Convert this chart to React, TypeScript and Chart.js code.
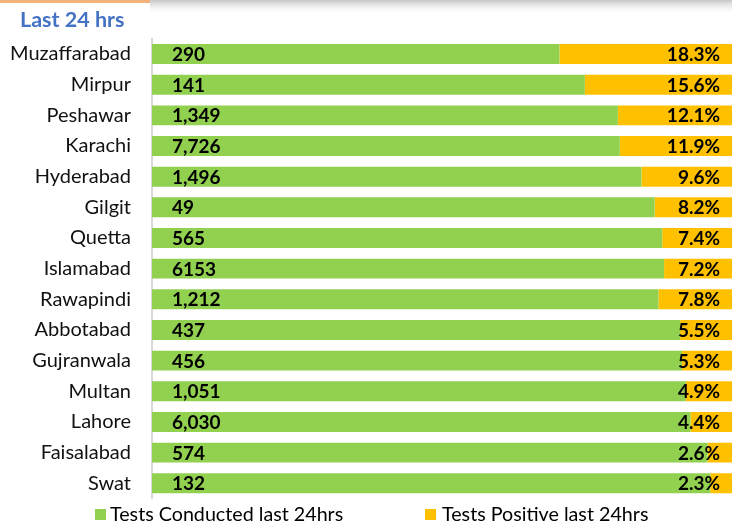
import React, { useEffect, useRef } from "react";
import { Chart, registerables } from "chart.js";

Chart.register(...registerables);

const cities = [
  "Muzaffarabad", "Mirpur", "Peshawar", "Karachi", "Hyderabad", "Gilgit", "Quetta",
  "Islamabad", "Rawapindi", "Abbotabad", "Gujranwala", "Multan", "Lahore", "Faisalabad", "Swat",
];
const testsConducted = [290, 141, 1349, 7726, 1496, 49, 565, 6153, 1212, 437, 456, 1051, 6030, 574, 132];
const testLabels = ["290", "141", "1,349", "7,726", "1,496", "49", "565", "6153", "1,212", "437", "456", "1,051", "6,030", "574", "132"];
const positiveRate = [18.3, 15.6, 12.1, 11.9, 9.6, 8.2, 7.4, 7.2, 7.8, 5.5, 5.3, 4.9, 4.4, 2.6, 2.3];
const negativeShare = positiveRate.map((p) => 100 - p);

const FONT = "Lato, 'Open Sans', sans-serif";
const GREEN = "#92D050";
const ORANGE = "#FFC000";

const decorPlugin = {
  id: "decor",
  beforeDraw(chart: any) {
    const ctx = chart.ctx;
    ctx.save();
    const g = ctx.createLinearGradient(0, 0, 0, 15);
    g.addColorStop(0, "rgba(185,185,185,0.8)");
    g.addColorStop(1, "rgba(255,255,255,0)");
    ctx.fillStyle = g;
    ctx.fillRect(150, 0, chart.width - 150, 15);
    ctx.fillStyle = "#F2B27A";
    ctx.fillRect(0, 0, 150, 3);
    ctx.restore();
  },
  afterDraw(chart: any) {
    const ctx = chart.ctx;
    ctx.save();
    // title
    ctx.fillStyle = "#4472C4";
    ctx.font = `bold 21.5px ${FONT}`;
    ctx.textAlign = "left";
    ctx.textBaseline = "alphabetic";
    ctx.fillText("Last 24 hrs", 20, 27);
    // legend
    ctx.font = `19.7px ${FONT}`;
    ctx.textBaseline = "middle";
    ctx.fillStyle = GREEN;
    ctx.fillRect(95, 509, 11, 11);
    ctx.fillStyle = "#000";
    ctx.fillText("Tests Conducted last 24hrs", 110, 515);
    ctx.fillStyle = ORANGE;
    ctx.fillRect(425, 509, 11, 11);
    ctx.fillStyle = "#000";
    ctx.fillText("Tests Positive last 24hrs", 442, 515);
    ctx.restore();
  },
};

const labelPlugin = {
  id: "barLabels",
  afterDatasetsDraw(chart: any) {
    const ctx = chart.ctx;
    ctx.save();
    ctx.font = `bold 19px ${FONT}`;
    ctx.fillStyle = "#000";
    ctx.textBaseline = "middle";
    const m0 = chart.getDatasetMeta(0);
    m0.data.forEach((el: any, i: number) => {
      ctx.textAlign = "left";
      ctx.fillText(testLabels[i], chart.chartArea.left + 20, el.y + 1);
    });
    const m1 = chart.getDatasetMeta(1);
    m1.data.forEach((el: any, i: number) => {
      ctx.textAlign = "right";
      ctx.fillText(positiveRate[i].toFixed(1) + "%", chart.chartArea.right - 12, el.y + 1);
    });
    ctx.restore();
  },
};

export default function App() {
  const ref = useRef<HTMLCanvasElement>(null);
  useEffect(() => {
    if (!ref.current) return;
    const chart = new Chart(ref.current, {
      type: "bar",
      data: {
        labels: cities,
        datasets: [
          {
            label: "Tests Conducted last 24hrs",
            data: negativeShare,
            backgroundColor: GREEN,
            barPercentage: 0.65,
            categoryPercentage: 1,
          },
          {
            label: "Tests Positive last 24hrs",
            data: positiveRate,
            backgroundColor: ORANGE,
            barPercentage: 0.65,
            categoryPercentage: 1,
          },
        ],
      },
      options: {
        indexAxis: "y",
        responsive: false,
        animation: false,
        layout: { padding: { top: 38.7, bottom: 25.4, left: 0, right: 0 } },
        plugins: {
          legend: { display: false },
          title: { display: false },
          tooltip: { enabled: false },
        },
        scales: {
          x: {
            stacked: true,
            min: 38.5,
            max: 100,
            display: false,
          },
          y: {
            stacked: true,
            grid: { display: false, drawTicks: false },
            border: { display: true, color: "#D9D9D9", width: 2 },
            ticks: {
              color: "#111",
              padding: 21,
              font: { family: FONT, size: 20 },
            },
            afterFit(scale: any) {
              scale.width = 152;
              scale.paddingTop = 0;
              scale.paddingBottom = 0;
            },
          },
        },
      },
      plugins: [decorPlugin, labelPlugin],
    } as any);
    return () => chart.destroy();
  }, []);
  return (
    <div style={{ position: "fixed", left: 0, top: 0, width: 732, height: 524, background: "#fff" }}>
      <canvas ref={ref} width={732} height={524} style={{ display: "block", width: 732, height: 524 }} />
    </div>
  );
}
